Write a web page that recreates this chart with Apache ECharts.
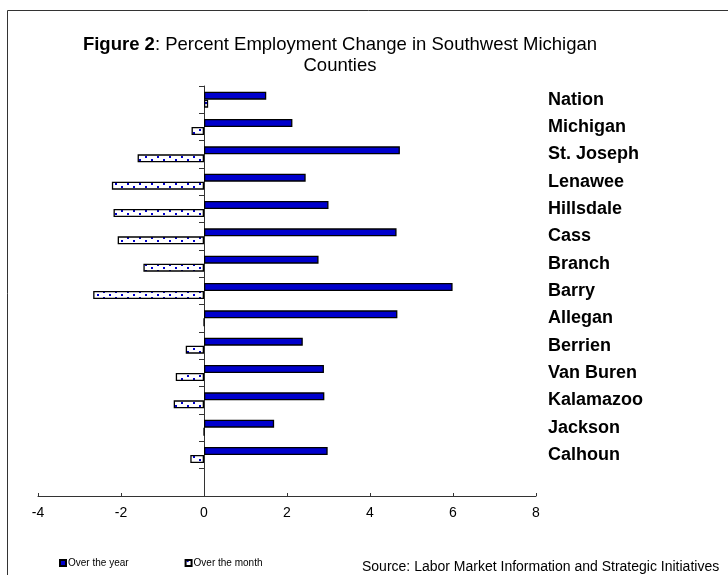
<!DOCTYPE html>
<html>
<head>
<meta charset="utf-8">
<script src="https://cdn.jsdelivr.net/npm/echarts@6/dist/echarts.min.js"></script>
<style>
  html, body { margin: 0; padding: 0; background: #fff; }
  #chart { width: 728px; height: 575px; }
</style>
</head>
<body>
<div id="chart"></div>
<script>
// counties, top to bottom (last empty slot leaves the gap above the x axis)
const counties = ['Nation', 'Michigan', 'St. Joseph', 'Lenawee', 'Hillsdale', 'Cass', 'Branch',
  'Barry', 'Allegan', 'Berrien', 'Van Buren', 'Kalamazoo', 'Jackson', 'Calhoun', ''];
const overYear = [1.5, 2.13, 4.72, 2.45, 3.0, 4.64, 2.76, 5.99, 4.66, 2.38, 2.89, 2.9, 1.69, 2.98, null];
const overMonth = [0.1, -0.3, -1.6, -2.22, -2.18, -2.08, -1.46, -2.67, 0, -0.44, -0.68, -0.73, 0, -0.33, null];
const xTicks = [-4, -2, 0, 2, 4, 6, 8];

const BLUE = '#0000cc';
const FONT = 'Arial, "Liberation Sans", sans-serif';

// dotted fill for the monthly bars
const makeDots = () => {
  const c = document.createElement('canvas');
  c.width = 12;
  c.height = 6;
  const ctx = c.getContext('2d');
  ctx.fillStyle = '#fff';
  ctx.fillRect(0, 0, 12, 6);
  ctx.fillStyle = BLUE;
  ctx.fillRect(1, 0, 2, 2);
  ctx.fillRect(7, 3, 2, 2);
  return c;
};

const chart = echarts.init(document.getElementById('chart'));
chart.setOption({
  backgroundColor: '#fff',
  animation: false,
  title: {
    text: '{b|Figure 2}: Percent Employment Change in Southwest Michigan\nCounties',
    left: 340,
    top: 34,
    padding: 0,
    textAlign: 'center',
    textStyle: {
      fontFamily: FONT,
      fontSize: 18.5,
      fontWeight: 'normal',
      color: '#000',
      lineHeight: 21,
      align: 'center',
      rich: {
        b: { fontFamily: FONT, fontSize: 18.5, fontWeight: 'bold', color: '#000', lineHeight: 21 },
      },
    },
  },
  legend: {
    left: 59,
    top: 558,
    padding: 0,
    itemWidth: 6,
    itemHeight: 6,
    itemGap: 56,
    icon: 'rect',
    textStyle: { fontFamily: FONT, fontSize: 10, color: '#000', padding: [0, 0, 0, -3] },
    data: ['Over the year', 'Over the month'],
  },
  graphic: [
    {
      type: 'rect',
      shape: { x: 7.5, y: 10.5, width: 800, height: 700 },
      style: { fill: 'none', stroke: '#333', lineWidth: 1 },
      silent: true,
    },
    {
      type: 'text',
      x: 362,
      y: 567,
      style: {
        text: 'Source: Labor Market Information and Strategic Initiatives',
        font: '14px ' + FONT,
        fill: '#000',
        verticalAlign: 'middle',
      },
    },
  ],
  grid: { left: 38, right: 192, top: 86, bottom: 79, containLabel: false },
  xAxis: {
    type: 'value',
    min: -4,
    max: 8,
    interval: 2,
    axisLine: { show: true, lineStyle: { color: '#333' } },
    axisTick: { show: true, inside: true, length: 3, lineStyle: { color: '#333' } },
    splitLine: { show: false },
    axisLabel: {
      fontFamily: FONT,
      fontSize: 14,
      color: '#000',
      margin: 10,
      formatter: (v) => (xTicks.includes(v) ? String(v) : ''),
    },
  },
  yAxis: [
    {
      type: 'category',
      data: counties,
      inverse: true,
      axisLine: { show: true, onZero: true, lineStyle: { color: '#333' } },
      axisTick: { show: true, length: 5, lineStyle: { color: '#333' } },
      axisLabel: { show: false },
    },
    {
      type: 'category',
      data: counties,
      inverse: true,
      position: 'right',
      axisLine: { show: false, onZero: false },
      axisTick: { show: false },
      axisLabel: {
        fontFamily: FONT,
        fontSize: 18,
        fontWeight: 'bold',
        color: '#000',
        margin: 12,
      },
    },
  ],
  series: [
    {
      name: 'Over the year',
      type: 'bar',
      yAxisIndex: 0,
      data: overYear,
      barWidth: 8,
      barGap: '0%',
      itemStyle: { color: BLUE, borderColor: '#000', borderWidth: 1.3 },
    },
    {
      name: 'Over the month',
      type: 'bar',
      yAxisIndex: 0,
      data: overMonth,
      barWidth: 8,
      barGap: '0%',
      itemStyle: {
        color: { image: makeDots(), repeat: 'repeat' },
        borderColor: '#000',
        borderWidth: 1.3,
      },
    },
  ],
});
</script>
</body>
</html>
